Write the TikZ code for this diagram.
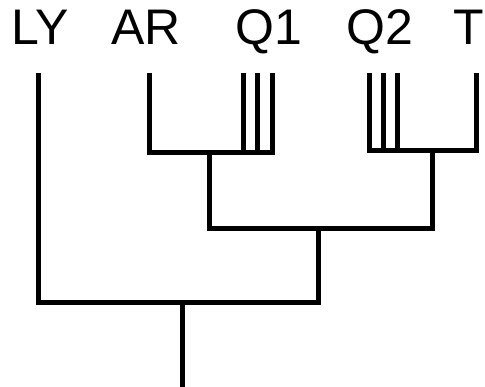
\documentclass[tikz,border=0pt]{standalone}
\usepackage{fontspec}
\setmainfont{Liberation Sans}
\begin{document}
\begin{tikzpicture}[x=1pt,y=-1pt,
  lbl/.style={anchor=base, inner sep=0pt, font=\fontsize{50}{50}\selectfont},
  br/.style={line width=5pt, line join=miter, line cap=butt}]
\useasboundingbox (0,0) rectangle (485,387);
\fill[white] (0,0) rectangle (485,387);
% labels
\node[lbl] (LY) at (40,45) {LY};
\node[lbl] (AR) at (146,45) {AR};
\node[lbl] (Q1) at (269,45) {Q1};
\node[lbl] (Q2) at (380,45) {Q2};
\node[lbl] (T)  at (469,45) {T};
% leaf tops
\coordinate (ly) at (38,73);
\coordinate (ar) at (149,73);
\coordinate (q1a) at (243,73);
\coordinate (q1b) at (257.5,73);
\coordinate (q1c) at (272,73);
\coordinate (q2a) at (369,73);
\coordinate (q2b) at (383,73);
\coordinate (q2c) at (397,73);
\coordinate (t) at (476,73);
% internal nodes
\coordinate (n1) at (209,153);
\coordinate (n2) at (432,151);
\coordinate (n3) at (318,229);
\coordinate (n4) at (182,303);
\coordinate (root) at (182,387);
% clade AR + Q1
\draw[br] (ar) |- (n1 -| q1c) -- (q1c);
\draw[br] (q1a) -- (q1a |- n1);
\draw[br] (q1b) -- (q1b |- n1);
% clade Q2 + T
\draw[br] (q2a) |- (n2 -| t) -- (t);
\draw[br] (q2b) -- (q2b |- n2);
\draw[br] (q2c) -- (q2c |- n2);
% join of both clades
\draw[br] (n1) |- (n3) -| (n2);
% LY + rest
\draw[br] (ly) |- (n4 -| n3) -- (n3);
% root
\draw[br] (n4) -- (root);
\end{tikzpicture}
\end{document}
